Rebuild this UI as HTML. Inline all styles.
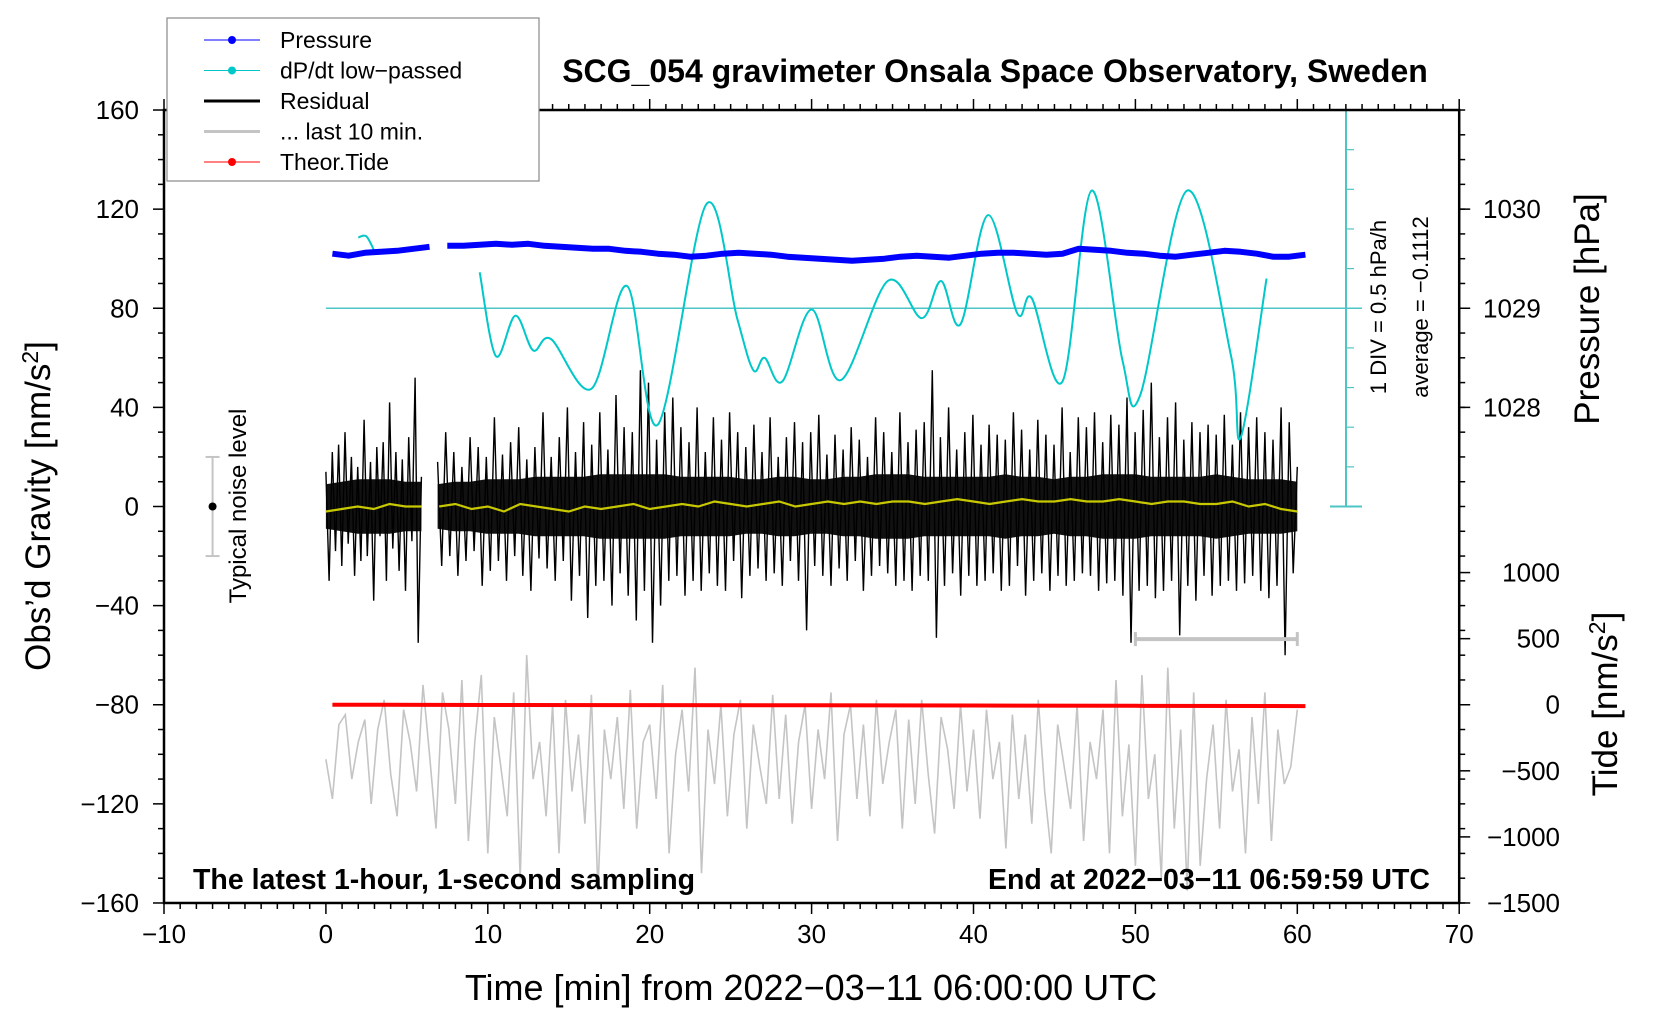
<!DOCTYPE html>
<html><head><meta charset="utf-8">
<style>
html,body{margin:0;padding:0;background:#fff;}
svg{display:block;font-family:"Liberation Sans",Arial,sans-serif;}
</style></head>
<body>
<svg id="chart" width="1660" height="1020" viewBox="0 0 1660 1020" xmlns="http://www.w3.org/2000/svg">
</svg>
<script>
// ---- data ----
const residualA = [14,-30,22,-18,25,-24,30,-15,20,-28,16,-22,35,-20,18,-38,24,-12,26,-30,42,-17,22,-26,19,-34,28,-14,52,-55,12];
const residualB = [18,-24,30,-20,22,-28,16,-22,28,-18,
 24,-32,20,-26,36,-22,21,-30,26,-20,
 32,-28,19,-34,24,-21,38,-25,20,-30,
 28,-22,40,-38,22,-28,34,-45,25,-32,
 38,-30,23,-40,45,-27,32,-36,30,-46,
 55,-34,50,-55,27,-40,38,-30,44,-28,
 32,-36,26,-30,40,-34,22,-27,36,-32,
 27,-34,38,-22,30,-37,24,-28,33,-25,
 22,-30,36,-27,20,-32,28,-22,34,-30,
 26,-50,30,-24,37,-28,21,-32,29,-25,
 23,-30,32,-22,27,-34,20,-28,36,-24,
 30,-27,22,-32,38,-30,26,-34,31,-28,
 34,-30,55,-53,28,-32,40,-27,23,-36,
 30,-28,37,-32,25,-30,33,-27,29,-34,
 27,-32,38,-24,31,-36,23,-30,35,-27,
 29,-34,25,-28,40,-32,22,-30,36,-27,
 32,-28,38,-34,26,-31,37,-30,33,-36,
 44,-55,30,-34,39,-32,50,-37,28,-34,
 36,-30,42,-52,27,-32,34,-38,30,-28,
 33,-36,29,-32,37,-30,25,-34,38,-31,
 32,-28,36,-34,30,-37,27,-32,40,-60,34,-27,
 16];
// dense core amplitude of residual (per minute)
const bandA = [9,10,11,11,11,10,10];
const bandB = [9,10,10,11,11,11,12,12,12,12,13,13,13,13,13,12,12,12,12,11,11,12,12,11,11,12,12,13,13,13,12,12,12,12,12,13,12,12,11,12,12,13,13,13,12,12,12,12,13,12,11,11,11,10];
const smoothA = [-2,-1,0,-1,1,0,0];
const smoothB = [0,1,-1,0,-2,1,0,-1,-2,0,-1,0,1,-1,0,1,0,2,1,0,1,2,0,1,2,1,2,1,2,2,1,2,3,2,1,2,3,2,2,3,2,2,3,2,1,2,2,1,1,2,0,1,-1,-2];
const last10 = [-102,-118,-88,-84,-110,-95,-86,-120,-90,-78,
 -108,-125,-82,-95,-115,-72,-100,-130,-75,-90,
 -120,-70,-135,-95,-68,-140,-85,-105,-125,-75,
 -150,-60,-110,-95,-125,-80,-140,-78,-115,-92,
 -128,-76,-155,-90,-110,-85,-122,-74,-130,-95,
 -88,-118,-72,-140,-100,-82,-115,-65,-148,-90,
 -112,-80,-125,-92,-78,-130,-88,-105,-120,-76,
 -118,-84,-128,-95,-80,-122,-90,-110,-75,-135,
 -92,-80,-118,-88,-125,-78,-112,-95,-82,-130,
 -86,-120,-78,-108,-132,-85,-98,-122,-80,-115,
 -90,-126,-82,-110,-95,-138,-84,-118,-92,-128,
 -78,-115,-140,-88,-105,-122,-80,-135,-95,-110,
 -82,-140,-70,-125,-96,-145,-68,-118,-100,-150,
 -65,-130,-90,-155,-75,-145,-110,-88,-130,-78,
 -115,-98,-140,-85,-120,-75,-135,-90,-112,-105,
 -82];
const pressureA = [1029.55,1029.53,1029.56,1029.57,1029.58,1029.6,1029.62];
const pressureB = [1029.63,1029.63,1029.64,1029.65,1029.64,1029.65,1029.63,1029.62,1029.61,1029.6,
 1029.6,1029.58,1029.57,1029.55,1029.54,1029.52,1029.53,1029.55,1029.56,1029.55,
 1029.54,1029.52,1029.51,1029.5,1029.49,1029.48,1029.49,1029.5,1029.52,1029.53,
 1029.52,1029.51,1029.53,1029.55,1029.56,1029.56,1029.55,1029.54,1029.55,1029.6,
 1029.59,1029.58,1029.56,1029.55,1029.53,1029.52,1029.54,1029.56,1029.58,1029.57,
 1029.55,1029.52,1029.52,1029.54];
const dpdtT1 = [2.0,2.5,3.0];
const dpdtV1 = [1.43,1.45,1.15];
const dpdtT2 = [9.5,10.5,11.7,12.8,13.9,16.4,18.6,20.5,23.5,25.4,26.4,27.1,28.2,30,31.8,34.7,36.8,38,39.2,40.9,42.7,43.6,45.5,47.3,49.2,50.3,53.2,55.9,56.5,58.1];
const dpdtV2 = [0.725,-0.965,-0.15,-0.85,-0.62,-1.625,0.45,-2.35,2.1,-0.2,-1.25,-1.0,-1.475,-0.025,-1.45,0.55,-0.2,0.55,-0.32,1.88,-0.1,0.2,-1.475,2.375,-1.05,-1.75,2.375,-0.95,-2.61,0.6];
const tideT = [0.4,10,20,30,40,50,60.5];
const tideV = [0,-2,-3,-4,-6,-8,-10];
const xTicks = [-10,0,10,20,30,40,50,60,70];
const yTicks = [160,120,80,40,0,-40,-80,-120,-160];
const pTicks = [1030,1029,1028];
const tideTicks = [1000,500,0,-500,-1000,-1500];

// ---- scales ----
const X = t => 164 + (t + 10) * 16.19;
const Y = g => 506.5 - g * 2.478;
const P = p => Y(80 + (p - 1029) * 40);
const TD = v => Y(-80 + v * 80 / 1500);
const DP = d => Y(80 + d * 20);

const svg = document.getElementById('chart');
const NS = 'http://www.w3.org/2000/svg';
function mk(tag, attrs, parent) {
  const e = document.createElementNS(NS, tag);
  for (const k in attrs) e.setAttribute(k, attrs[k]);
  (parent || svg).appendChild(e);
  return e;
}
function txt(s, attrs, parent) { const e = mk('text', attrs, parent); e.textContent = s; return e; }
function polyPts(xs, ys) { return xs.map((x, i) => x.toFixed(1) + ',' + ys[i].toFixed(1)).join(' '); }
function catmull(ts, vs, fy) {
  const pts = ts.map((t, i) => [X(t), fy(vs[i])]);
  let d = 'M' + pts[0][0] + ',' + pts[0][1];
  for (let i = 0; i < pts.length - 1; i++) {
    const p0 = pts[Math.max(0, i - 1)], p1 = pts[i], p2 = pts[i + 1], p3 = pts[Math.min(pts.length - 1, i + 2)];
    const c1 = [p1[0] + (p2[0] - p0[0]) / 6, p1[1] + (p2[1] - p0[1]) / 6];
    const c2 = [p2[0] - (p3[0] - p1[0]) / 6, p2[1] - (p3[1] - p1[1]) / 6];
    d += ' C' + c1.join(',') + ' ' + c2.join(',') + ' ' + p2.join(',');
  }
  return d;
}
function bandPath(arr, t0, dt) {
  const top = arr.map((v, i) => X(t0 + i * dt).toFixed(1) + ',' + Y(v).toFixed(1));
  const bot = arr.map((v, i) => X(t0 + i * dt).toFixed(1) + ',' + Y(-v).toFixed(1)).reverse();
  return top.concat(bot).join(' ');
}

// ---- gray last 10 min ----
let e = mk('polyline', {points: polyPts(last10.map((v, i) => X(i * 60 / (last10.length - 1))), last10.map(Y)), fill: 'none', stroke: '#c4c4c4', 'stroke-width': 1.6});



// ---- residual ----
e = mk('polygon', {points: bandPath(bandA, 0, 5.9 / (bandA.length - 1)), fill: '#111', stroke: 'none'});


e = mk('polygon', {points: bandPath(bandB, 6.9, 53.1 / (bandB.length - 1)), fill: '#111', stroke: 'none'});


e = mk('polyline', {points: polyPts(residualA.map((v, i) => X(i * 5.9 / (residualA.length - 1))), residualA.map(Y)), fill: 'none', stroke: '#000', 'stroke-width': 1.4});


e = mk('polyline', {points: polyPts(residualB.map((v, i) => X(6.9 + i * 53.1 / (residualB.length - 1))), residualB.map(Y)), fill: 'none', stroke: '#000', 'stroke-width': 1.4});



// ---- smoothed residual ----
e = mk('polyline', {points: polyPts(smoothA.map((v, i) => X(i * 5.9 / (smoothA.length - 1))), smoothA.map(Y)), fill: 'none', stroke: '#c8c800', 'stroke-width': 2.2});


e = mk('polyline', {points: polyPts(smoothB.map((v, i) => X(7 + i)), smoothB.map(Y)), fill: 'none', stroke: '#c8c800', 'stroke-width': 2.2});



// ---- tide ----
e = mk('polyline', {points: polyPts(tideT.map(X), tideV.map(TD)), fill: 'none', stroke: '#ff0000', 'stroke-width': 4});



// ---- cyan dp/dt ----
e = mk('line', {x1: X(0), x2: 1362, y1: Y(80), y2: Y(80), stroke: '#4fc4c4', 'stroke-width': 1.5});


e = mk('path', {d: catmull(dpdtT1, dpdtV1, DP), fill: 'none', stroke: '#00c8c8', 'stroke-width': 2});


e = mk('path', {d: catmull(dpdtT2, dpdtV2, DP), fill: 'none', stroke: '#00c8c8', 'stroke-width': 2});



// ---- pressure ----
e = mk('polyline', {points: polyPts(pressureA.map((v, i) => X(0.4 + i)), pressureA.map(P)), fill: 'none', stroke: '#0000ff', 'stroke-width': 6, 'stroke-linejoin': 'round'});


e = mk('polyline', {points: polyPts(pressureB.map((v, i) => X(7.5 + i)), pressureB.map(P)), fill: 'none', stroke: '#0000ff', 'stroke-width': 6, 'stroke-linejoin': 'round'});



// ---- cyan scale axis ----
const cg = mk('g', {stroke: '#4fc4c4', 'stroke-width': 2});


mk('line', {x1: 1346, x2: 1346, y1: Y(160), y2: Y(0)}, cg);
mk('line', {x1: 1330, x2: 1362, y1: Y(160), y2: Y(160)}, cg);
mk('line', {x1: 1330, x2: 1362, y1: Y(0), y2: Y(0)}, cg);
for (let g = 16; g < 160; g += 16) mk('line', {x1: 1346, x2: 1354, y1: Y(g), y2: Y(g), 'stroke-width': 1.2}, cg);
e = txt('1 DIV = 0.5 hPa/h', {x: 0, y: 0, 'font-size': 22, 'text-anchor': 'middle', transform: 'translate(1386,307) rotate(-90)'});


e = txt('average = \u22120.1112', {x: 0, y: 0, 'font-size': 22, 'text-anchor': 'middle', transform: 'translate(1428,307) rotate(-90)'});



// ---- noise level ----
const ng = mk('g', {stroke: '#c4c4c4', 'stroke-width': 2});


mk('line', {x1: X(-7), x2: X(-7), y1: Y(20), y2: Y(-20)}, ng);
mk('line', {x1: X(-7) - 7, x2: X(-7) + 7, y1: Y(20), y2: Y(20)}, ng);
mk('line', {x1: X(-7) - 7, x2: X(-7) + 7, y1: Y(-20), y2: Y(-20)}, ng);
mk('circle', {cx: X(-7), cy: Y(0), r: 4, fill: '#000', stroke: 'none'}, ng);
e = txt('Typical noise level', {x: 0, y: 0, 'font-size': 24, 'text-anchor': 'middle', transform: 'translate(246,506) rotate(-90)'});



// ---- 10 min bar ----
const bg = mk('g', {stroke: '#c4c4c4', 'stroke-width': 4});


mk('line', {x1: X(50), x2: X(60), y1: Y(-53.5), y2: Y(-53.5)}, bg);
mk('line', {x1: X(50), x2: X(50), y1: Y(-53.5) - 7, y2: Y(-53.5) + 7, 'stroke-width': 3}, bg);
mk('line', {x1: X(60), x2: X(60), y1: Y(-53.5) - 7, y2: Y(-53.5) + 7, 'stroke-width': 3}, bg);

// ---- frame & ticks ----
const L = X(-10), R = X(70), T = Y(160), B = Y(-160);
const fg = mk('g', {stroke: '#000', fill: 'none'});


mk('rect', {x: L, y: T, width: R - L, height: B - T, 'stroke-width': 2.5}, fg);
for (let t = -10; t <= 70; t++) {
  const big = t % 10 === 0, len = big ? 11 : 6;
  mk('line', {x1: X(t), x2: X(t), y1: B, y2: B + len, 'stroke-width': 1.5}, fg);
  mk('line', {x1: X(t), x2: X(t), y1: T, y2: T - len, 'stroke-width': 1.5}, fg);
}
for (let g = -160; g <= 160; g += 10) {
  const big = g % 40 === 0;
  mk('line', {x1: L, x2: L - (big ? 11 : 6), y1: Y(g), y2: Y(g), 'stroke-width': 1.5}, fg);
}
for (let g = -160; g <= 160; g += 10) {
  mk('line', {x1: R, x2: R + 6, y1: Y(g), y2: Y(g), 'stroke-width': 1.5}, fg);
}
pTicks.forEach(p => mk('line', {x1: R, x2: R + 11, y1: P(p), y2: P(p), 'stroke-width': 1.5}, fg));
tideTicks.forEach(v => mk('line', {x1: R, x2: R + 11, y1: TD(v), y2: TD(v), 'stroke-width': 1.5}, fg));

xTicks.forEach(t => {
  const el = txt(String(t).replace('-', '\u2212'), {x: X(t), y: B + 40, 'font-size': 26, 'text-anchor': 'middle'});
  
  
});
yTicks.forEach(g => {
  const el = txt(String(g).replace('-', '\u2212'), {x: 139, y: Y(g) + 9, 'font-size': 26, 'text-anchor': 'end'});
  
  
});
pTicks.forEach(p => {
  const el = txt(String(p), {x: 1483, y: P(p) + 9, 'font-size': 26});
  
  
});
tideTicks.forEach(v => {
  const el = txt(String(v).replace('-', '\u2212'), {x: 1560, y: TD(v) + 9, 'font-size': 26, 'text-anchor': 'end'});
  
  
});

// ---- titles ----
e = txt('SCG_054 gravimeter Onsala Space Observatory, Sweden', {x: 995, y: 82, 'font-size': 32, 'font-weight': 'bold', 'text-anchor': 'middle'});


e = txt('Time [min] from 2022\u221203\u221211 06:00:00 UTC', {x: 811, y: 1000, 'font-size': 36, 'text-anchor': 'middle'});


e = txt('', {x: 0, y: 0, 'font-size': 35, 'text-anchor': 'middle', transform: 'translate(50,506) rotate(-90)'});
e.innerHTML = 'Obs\u2019d Gravity [nm/s<tspan dy="-12" font-size="23">2</tspan><tspan dy="12">]</tspan>';


e = txt('Pressure [hPa]', {x: 0, y: 0, 'font-size': 35, 'text-anchor': 'middle', transform: 'translate(1599,309) rotate(-90)'});


e = txt('', {x: 0, y: 0, 'font-size': 35, 'text-anchor': 'middle', transform: 'translate(1617,704) rotate(-90)'});
e.innerHTML = 'Tide [nm/s<tspan dy="-12" font-size="23">2</tspan><tspan dy="12">]</tspan>';


e = txt('The latest 1-hour, 1-second sampling', {x: 193, y: 889, 'font-size': 28.5, 'font-weight': 'bold'});


e = txt('End at 2022\u221203\u221211 06:59:59 UTC', {x: 1430, y: 889, 'font-size': 28.5, 'font-weight': 'bold', 'text-anchor': 'end'});



// ---- legend ----
const lg = mk('g', {});


mk('rect', {x: 167, y: 18, width: 372, height: 163, fill: '#fff', stroke: '#888', 'stroke-width': 1.2}, lg);
const legNames = ['Pressure', 'dP/dt low\u2212passed', 'Residual', '... last 10 min.', 'Theor.Tide'];
const legColors = ['#0000ff', '#00c8c8', '#000000', '#c4c4c4', '#ff0000'];
const legDots = [true, true, false, false, true];
legNames.forEach((n, i) => {
  const yy = 40 + i * 30.5;
  const item = mk('g', {}, lg);
  
  
  mk('line', {x1: 204, x2: 260, y1: yy, y2: yy, stroke: legColors[i], 'stroke-width': legDots[i] ? 1 : 3}, item);
  if (legDots[i]) mk('circle', {cx: 232, cy: yy, r: 4, fill: legColors[i]}, item);
  txt(n, {x: 280, y: yy + 8, 'font-size': 23}, item);
});
</script>
</body></html>
